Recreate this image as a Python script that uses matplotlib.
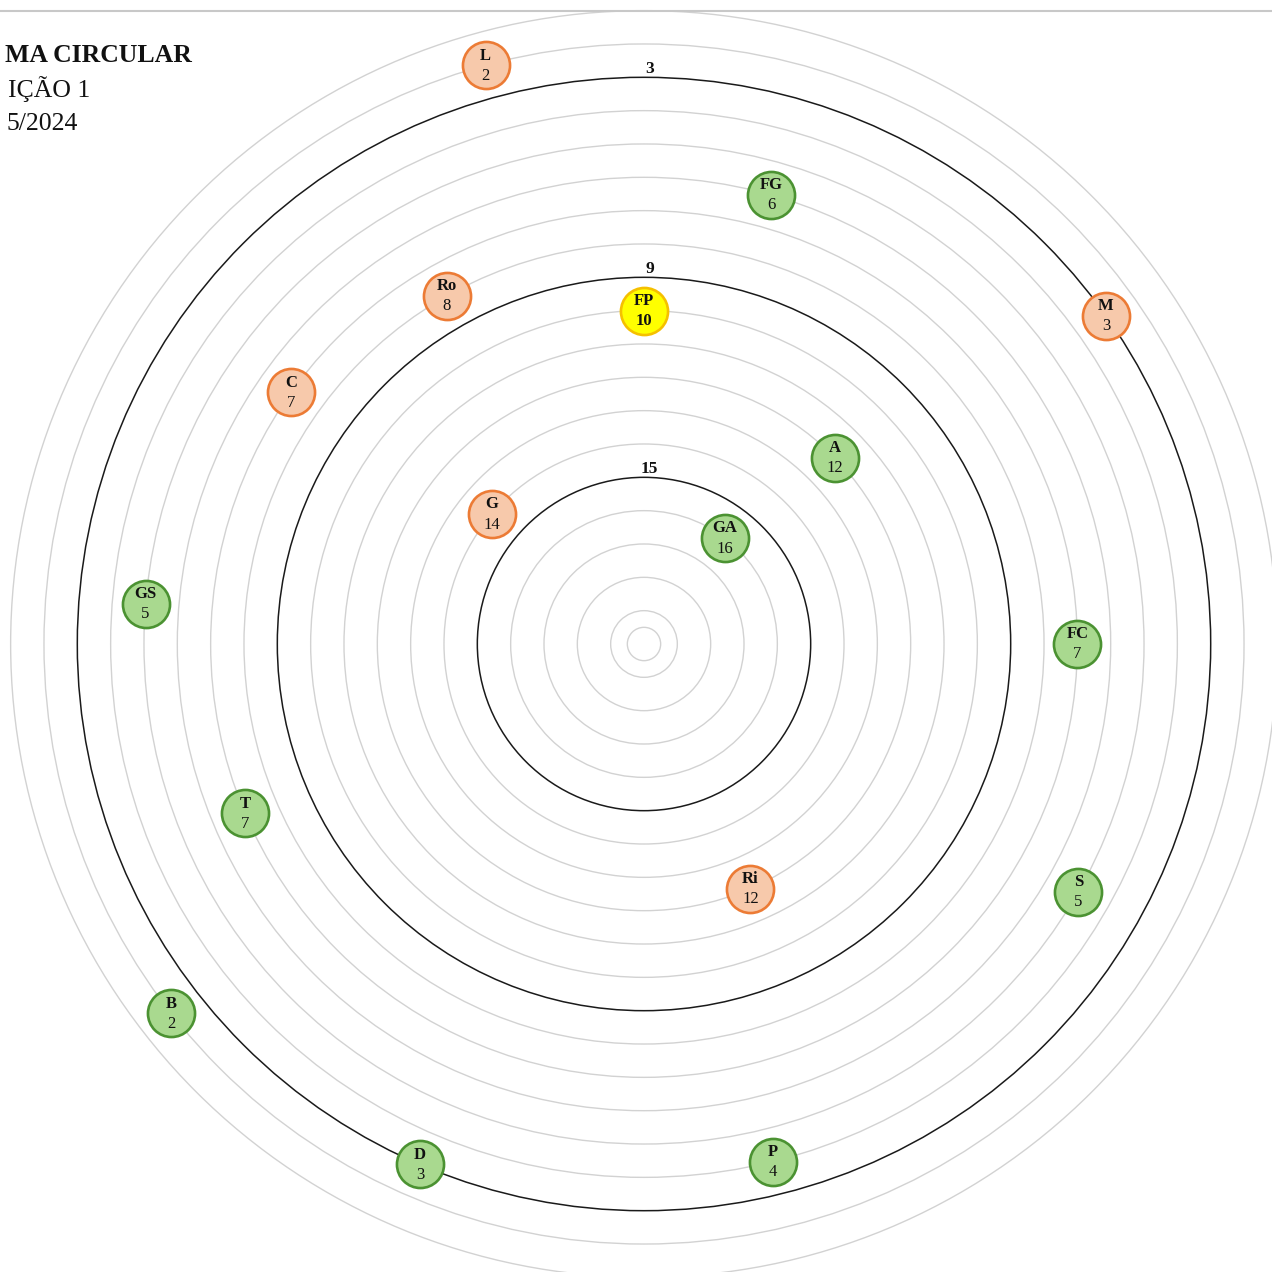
#!/usr/bin/env python3
"""
Sociograma circular: cada aluno fica no anel do número de escolhas recebidas
(mais escolhas = mais perto do centro).
"""

import numpy as np
import matplotlib
matplotlib.use('Agg')
import matplotlib.pyplot as plt
from matplotlib.lines import Line2D
from matplotlib.patches import Circle

# ============================================================================
# DADOS
# ============================================================================

nomes = ['FP', 'GA', 'G', 'A', 'Ri', 'L', 'M', 'FG', 'Ro',
         'C', 'GS', 'FC', 'T', 'S', 'B', 'D', 'P']
escolhas = [10, 16, 14, 12, 12, 2, 3, 6, 8, 7, 5, 7, 7, 5, 2, 3, 4]
angulos_graus = [90, 52.5, 139.5, 44.2, -66.5, 105.3, 35.4, 74.2, 119.5,
                 144.5, 175.4, 0, 203, -29.7, 218, 246.7, 284]
grupos = ['destaque', 'verde', 'laranja', 'verde', 'laranja', 'laranja',
          'laranja', 'verde', 'laranja', 'laranja', 'verde', 'verde',
          'verde', 'verde', 'verde', 'verde', 'verde']

niveis = list(range(1, 20)) + [19.5]
niveis_marcados = [3, 9, 15]
nivel_max = 20

# só a parte do título que aparece no original (está cortado à esquerda)
titulo = ['MA CIRCULAR', 'IÇÃO 1', '5/2024']

cores = {
    'verde': ('#a9d98f', '#4b9232'),
    'laranja': ('#f7c9ab', '#ec7b35'),
    'destaque': ('#ffff00', '#f5c000'),
}

plt.rcParams['font.family'] = ['Liberation Serif', 'DejaVu Serif']

# ============================================================================
# FIGURA
# ============================================================================

W = 1272
fig = plt.figure(figsize=(W / 100, W / 100), dpi=100)
fig.patch.set_facecolor('white')

# eixo polar centrado em (644, 644) px; raio 20 níveis = 666.7 px
cx, cy, raio_px = 644, 644, 666.7
ax = fig.add_axes([(cx - raio_px) / W, (W - cy - raio_px) / W,
                   2 * raio_px / W, 2 * raio_px / W], projection='polar')
ax.set_ylim(0, nivel_max)
ax.grid(False)
ax.set_xticks([])
ax.set_yticks([])
ax.spines['polar'].set_visible(False)
ax.patch.set_alpha(0)

# anéis (círculos fechados, sem emenda)
for nv in niveis:
    marcado = nv in niveis_marcados
    anel = Circle((0.5, 0.5), (nivel_max - nv) / nivel_max / 2,
                  transform=ax.transAxes, fill=False,
                  edgecolor='#1a1a1a' if marcado else '#d2d2d2',
                  lw=1.1 if marcado else 1.0, zorder=2 if marcado else 1)
    ax.add_patch(anel)

for nv in niveis_marcados:
    ax.annotate(str(nv), xy=(np.pi / 2, nivel_max - nv), xytext=(4, 0.5),
                textcoords='offset points', ha='center', va='bottom',
                fontsize=12.5, fontweight='bold', color='#111111')

# alunos
t = np.deg2rad(angulos_graus)
r = nivel_max - np.array(escolhas)
for nome, ti, ri, esc, g in zip(nomes, t, r, escolhas, grupos):
    face, borda = cores[g]
    ax.scatter([ti], [ri], s=1150, c=face, edgecolors=borda,
               linewidths=1.9, zorder=5)
    ax.annotate(nome, xy=(ti, ri), xytext=(0, 7), textcoords='offset points',
                ha='center', va='center', fontsize=12, fontweight='bold',
                color='#111111', zorder=6)
    ax.annotate(str(esc), xy=(ti, ri), xytext=(0, -7.5),
                textcoords='offset points', ha='center', va='center',
                fontsize=12, color='#111111', zorder=6,
                fontweight='bold' if g == 'destaque' else 'normal')

# linha cinza no topo
fig.add_artist(Line2D([0, 1], [1 - 10.5 / W, 1 - 10.5 / W],
                      color='#c8c8c8', lw=1.5))

# título
pos_titulo = [(192, 62, 'bold'), (90, 97, 'normal'), (78, 130, 'normal')]
for txt, (xr, yb, peso) in zip(titulo, pos_titulo):
    fig.text(xr / W, 1 - yb / W, txt, ha='right', va='baseline',
             fontsize=18.5, fontweight=peso, color='#111111')

fig.savefig('out.png', dpi=100)
